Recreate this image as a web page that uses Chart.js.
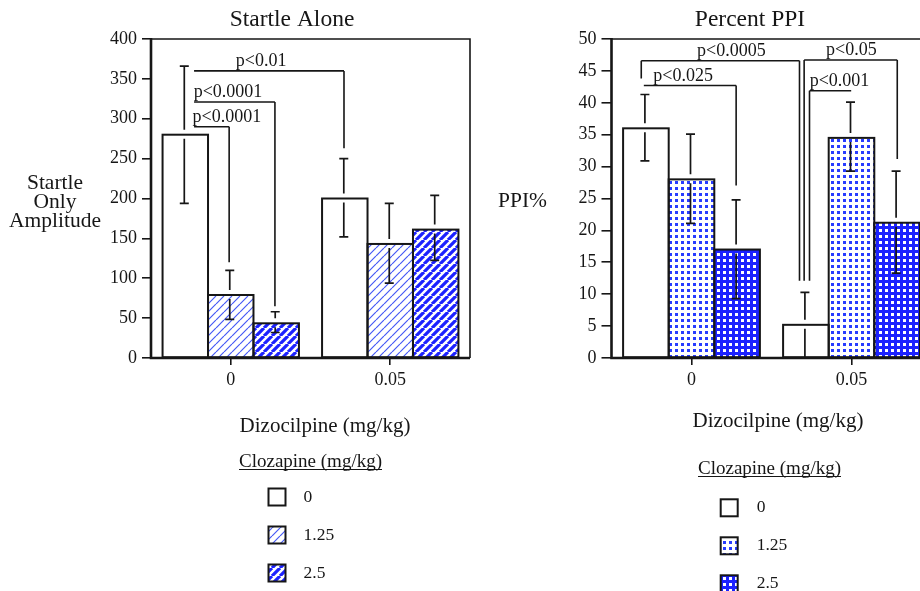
<!DOCTYPE html>
<html><head><meta charset="utf-8">
<script src="https://cdn.jsdelivr.net/npm/chart.js@4.4.1/dist/chart.umd.min.js"></script>
<style>
html,body{margin:0;padding:0;background:#fff;overflow:hidden;}
#wrap{position:relative;width:920px;height:591px;overflow:hidden;background:#fff;}
canvas{position:absolute;top:0;}
#c1{left:0;}
#c2{left:470px;}
</style></head><body>
<div id="wrap">
<canvas id="c1" width="472" height="591"></canvas>
<canvas id="c2" width="470" height="591"></canvas>
</div>
<script>
// ---------------- data ----------------
const categories = ['0', '0.05'];           // Dizocilpine (mg/kg)
const clozapineDoses = ['0', '1.25', '2.5']; // Clozapine (mg/kg)

// Startle Alone
const startleTicks = [0, 50, 100, 150, 200, 250, 300, 350, 400];
const startleClz0   = [280, 200];
const startleClz125 = [79, 143];
const startleClz25  = [43.5, 161];
const startleHi0    = [366, 250];
const startleLo0    = [194, 152];
const startleHi125  = [110, 194];
const startleLo125  = [48.5, 94];
const startleHi25   = [58, 204];
const startleLo25   = [32, 122.5];

// Percent PPI
const ppiTicks = [0, 5, 10, 15, 20, 25, 30, 35, 40, 45, 50];
const ppiClz0   = [36, 5.2];
const ppiClz125 = [28, 34.5];
const ppiClz25  = [17, 21.2];
const ppiHi0    = [41.3, 10.3];
const ppiLo0    = [30.9, 0];
const ppiHi125  = [35.1, 40.1];
const ppiLo125  = [21.1, 29.3];
const ppiHi25   = [24.8, 29.3];
const ppiLo25   = [9.3, 13.3];

// significance brackets (x in category units, y in data units)
const startleSig = [
  {label: 'p<0.01',   from: -0.23, to: 0.71,  y: 360, dropFrom: null, dropTo: 263, labelAt: 0.19},
  {label: 'p<0.0001', from: -0.23, to: 0.277, y: 321, dropFrom: null, dropTo: 65,  labelAt: -0.017},
  {label: 'p<0.0001', from: -0.23, to: -0.01, y: 290, dropFrom: null, dropTo: 120, labelAt: -0.024}
];
const ppiSig = [
  {label: 'p<0.0005', from: -0.314, to: 0.675, y: 46.6, dropFrom: 43.8, dropTo: 12.1, labelAt: 0.249},
  {label: 'p<0.025',  from: -0.298, to: 0.279, y: 42.7, dropFrom: null, dropTo: 27.05, labelAt: -0.052},
  {label: 'p<0.05',   from: 0.704,  to: 1.286, y: 46.7, dropFrom: 12.1, dropTo: 31.2, labelAt: 0.999},
  {label: 'p<0.001',  from: 0.7375, to: 0.998, y: 41.9, dropFrom: 12.1, dropTo: null, labelAt: 0.925}
];

// ---------------- styles ----------------
const FONT = '"Liberation Serif", "Times New Roman", Times, serif';
const INK = '#161616';
const BLUE = 'rgb(28,34,255)';

function tile(size, draw) {
  const c = document.createElement('canvas');
  c.width = size; c.height = size;
  const g = c.getContext('2d');
  draw(g, size);
  return document.createElement('canvas').getContext('2d').createPattern(c, 'repeat');
}
function diag(g, s) {
  g.beginPath();
  for (const k of [-s, 0, s]) { g.moveTo(k, s); g.lineTo(k + s, 0); }
  g.stroke();
}
const patThin = tile(8, (g, s) => { g.fillStyle = '#fff'; g.fillRect(0, 0, s, s); g.strokeStyle = 'rgb(70,90,245)'; g.lineWidth = 1.2; diag(g, s); });
const patThick = tile(8, (g, s) => { g.fillStyle = '#fff'; g.fillRect(0, 0, s, s); g.strokeStyle = BLUE; g.lineWidth = 3.2; diag(g, s); });
const patDots = tile(6, (g, s) => { g.fillStyle = '#fff'; g.fillRect(0, 0, s, s); g.fillStyle = 'rgb(40,60,255)'; g.fillRect(1, 1, 3, 3); });
const patGrid = tile(6, (g, s) => { g.fillStyle = BLUE; g.fillRect(0, 0, s, s); g.fillStyle = '#fff'; g.fillRect(1, 1, 3, 3); });

// ---------------- plugins ----------------
const drawPlugin = {
  id: 'figureDraw',
  afterDatasetsDraw(chart, args, o) {
    const ctx = chart.ctx, xs = chart.scales.x, ys = chart.scales.y, a = chart.chartArea;
    ctx.save();
    // bar outlines
    ctx.strokeStyle = INK; ctx.lineWidth = 2;
    chart.data.datasets.forEach((ds, i) => {
      chart.getDatasetMeta(i).data.forEach(bar => {
        const p = bar.getProps(['x', 'y', 'base', 'width'], true);
        ctx.strokeRect(p.x - p.width / 2, p.y, p.width, p.base - p.y);
      });
    });
    // frame
    ctx.lineWidth = 1.6;
    ctx.beginPath(); ctx.moveTo(a.left, a.top); ctx.lineTo(a.right, a.top); ctx.lineTo(a.right, a.bottom); ctx.stroke();
    ctx.lineWidth = 2.6;
    ctx.beginPath(); ctx.moveTo(a.left, a.top - 1); ctx.lineTo(a.left, a.bottom); ctx.lineTo(a.right, a.bottom); ctx.stroke();
    // error bars
    ctx.lineWidth = 1.7;
    chart.data.datasets.forEach((ds, i) => {
      chart.getDatasetMeta(i).data.forEach((bar, j) => {
        const p = bar.getProps(['x', 'y'], true);
        const x = p.x - 1;
        const yh = ys.getPixelForValue(ds.errHi[j]);
        const yl = ys.getPixelForValue(ds.errLo[j]);
        ctx.beginPath();
        if (yh < p.y - 5) { ctx.moveTo(x, yh); ctx.lineTo(x, p.y - 5); }
        if (yl > p.y + 4) { ctx.moveTo(x, p.y + 4); ctx.lineTo(x, yl); }
        ctx.moveTo(x - 4.5, yh); ctx.lineTo(x + 4.5, yh);
        ctx.moveTo(x - 4.5, yl); ctx.lineTo(x + 4.5, yl);
        ctx.stroke();
      });
    });
    // significance brackets
    ctx.lineWidth = 1.6;
    ctx.fillStyle = INK;
    ctx.font = '18px ' + FONT;
    ctx.textAlign = 'center'; ctx.textBaseline = 'alphabetic';
    (o.sig || []).forEach(b => {
      const x0 = xs.getPixelForValue(b.from), x1 = xs.getPixelForValue(b.to), y = ys.getPixelForValue(b.y);
      ctx.beginPath();
      ctx.moveTo(x0, y); ctx.lineTo(x1, y);
      if (b.dropFrom !== null) { ctx.moveTo(x0, y); ctx.lineTo(x0, ys.getPixelForValue(b.dropFrom)); }
      if (b.dropTo !== null) { ctx.moveTo(x1, y); ctx.lineTo(x1, ys.getPixelForValue(b.dropTo)); }
      ctx.stroke();
      ctx.fillText(b.label, xs.getPixelForValue(b.labelAt), y - 5);
    });
    ctx.restore();
  },
  afterDraw(chart, args, o) {
    const ctx = chart.ctx;
    ctx.save();
    ctx.fillStyle = INK; ctx.strokeStyle = INK; ctx.textBaseline = 'alphabetic';
    // title
    ctx.font = '23.5px ' + FONT; ctx.textAlign = 'center';
    ctx.fillText(o.title, o.titleX, 26);
    // y title
    ctx.font = '21.5px ' + FONT;
    ctx.textAlign = o.yTitleAlign;
    o.yTitle.forEach((t, k) => ctx.fillText(t, o.yTitleX, o.yTitleY + k * 19.2));
    // x title
    ctx.font = '21px ' + FONT; ctx.textAlign = 'center';
    ctx.fillText('Dizocilpine (mg/kg)', o.xTitleX, o.xTitleY);
    // legend
    ctx.font = '19px ' + FONT; ctx.textAlign = 'left';
    const lt = 'Clozapine (mg/kg)';
    ctx.fillText(lt, o.legX, o.legY);
    const w = ctx.measureText(lt).width;
    ctx.lineWidth = 1.2;
    ctx.beginPath(); ctx.moveTo(o.legX, o.legY + 2.5); ctx.lineTo(o.legX + w, o.legY + 2.5); ctx.stroke();
    ctx.font = '17.5px ' + FONT;
    chart.data.datasets.forEach((ds, i) => {
      const by = o.itemY + i * o.itemGap;
      ctx.fillStyle = ds.backgroundColor;
      ctx.fillRect(o.boxX, by - 13, 17, 17);
      ctx.lineWidth = 2;
      ctx.strokeRect(o.boxX, by - 13, 17, 17);
      ctx.fillStyle = INK;
      ctx.fillText(ds.label, o.itemX, by);
    });
    ctx.restore();
  }
};

function makeChart(id, cfg) {
  return new Chart(document.getElementById(id), {
    type: 'bar',
    data: {
      labels: categories,
      datasets: cfg.series.map((s, i) => ({
        label: clozapineDoses[i],
        data: s.data, errHi: s.hi, errLo: s.lo,
        backgroundColor: s.fill, borderWidth: 0
      }))
    },
    options: {
      responsive: false, animation: false, events: [],
      layout: {padding: {left: 0, top: 39, right: cfg.padRight, bottom: 0}},
      datasets: {bar: {categoryPercentage: 0.855, barPercentage: 1}},
      plugins: {
        legend: {display: false}, tooltip: {enabled: false}, title: {display: false},
        figureDraw: cfg.draw
      },
      scales: {
        x: {
          type: 'category', offset: true,
          grid: {display: true, drawOnChartArea: false, drawTicks: true, tickLength: 7, offset: false, color: INK, lineWidth: 1.6},
          border: {display: false},
          ticks: {font: {family: FONT, size: 18}, color: INK, padding: 4, maxRotation: 0},
          afterFit: s => { s.height = 233; }
        },
        y: {
          min: 0, max: cfg.max,
          grid: {display: true, drawOnChartArea: false, drawTicks: true, tickLength: cfg.tickLen, color: INK, lineWidth: 1.6},
          border: {display: false},
          ticks: {font: {family: FONT, size: 18}, color: INK, padding: 5},
          afterBuildTicks: s => { s.ticks = cfg.ticks.map(v => ({value: v})); },
          afterFit: s => { s.width = cfg.yWidth; }
        }
      }
    },
    plugins: [drawPlugin]
  });
}

makeChart('c1', {
  max: 400, ticks: startleTicks, yWidth: 151, padRight: 2, tickLen: 9,
  series: [
    {data: startleClz0, hi: startleHi0, lo: startleLo0, fill: '#ffffff'},
    {data: startleClz125, hi: startleHi125, lo: startleLo125, fill: patThin},
    {data: startleClz25, hi: startleHi25, lo: startleLo25, fill: patThick}
  ],
  draw: {
    sig: startleSig, title: 'Startle Alone', titleX: 292,
    yTitle: ['Startle', 'Only', 'Amplitude'], yTitleAlign: 'center', yTitleX: 55, yTitleY: 188.5,
    xTitleX: 325, xTitleY: 431.5,
    legX: 239, legY: 467, boxX: 268.5, itemX: 303.5, itemY: 501.5, itemGap: 38
  }
});

makeChart('c2', {
  max: 50, ticks: ppiTicks, yWidth: 141.5, padRight: 8.5, tickLen: 10,
  series: [
    {data: ppiClz0, hi: ppiHi0, lo: ppiLo0, fill: '#ffffff'},
    {data: ppiClz125, hi: ppiHi125, lo: ppiLo125, fill: patDots},
    {data: ppiClz25, hi: ppiHi25, lo: ppiLo25, fill: patGrid}
  ],
  draw: {
    sig: ppiSig, title: 'Percent PPI', titleX: 280,
    yTitle: ['PPI%'], yTitleAlign: 'left', yTitleX: 28, yTitleY: 206.5,
    xTitleX: 308, xTitleY: 426.5,
    legX: 228, legY: 474, boxX: 250.7, itemX: 286.7, itemY: 512.3, itemGap: 38
  }
});
</script>
</body></html>
